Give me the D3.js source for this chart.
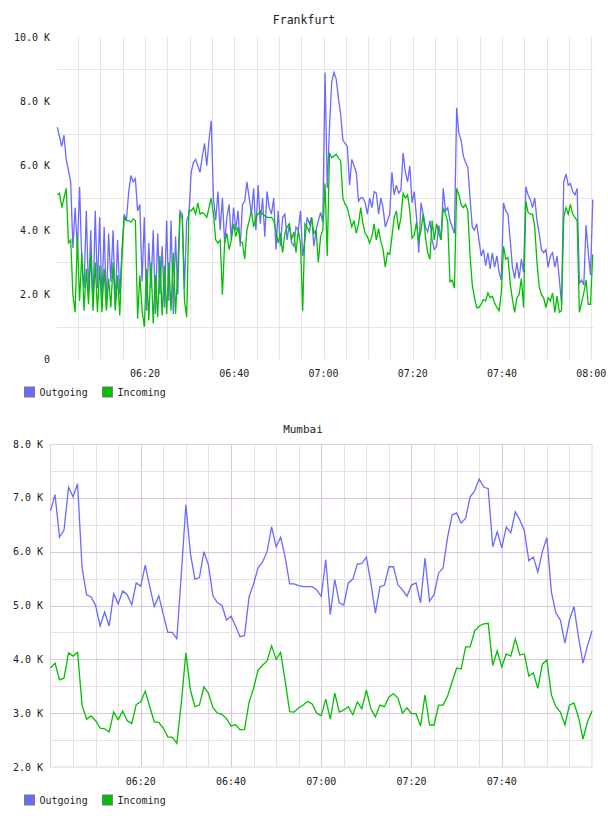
<!DOCTYPE html>
<html>
<head>
<meta charset="utf-8">
<script src="https://cdn.jsdelivr.net/npm/d3@7"></script>
<style>
  body { margin: 0; background: #fff; }
  text { font-family: "DejaVu Sans Mono", monospace; fill: #222; }
</style>
</head>
<body>
<script>
var seriesNames = ['Outgoing', 'Incoming'];
var seriesColors = ['#6a6aff', '#00c000'];

// Frankfurt, one sample every 30 s starting 06:00:20 (values in K)
var frankOut = [
  7.2, 6.9, 6.6, 6.95, 6.2, 5.85, 5.5, 3.45, 4.7, 3.4,
  5.35, 3.0, 2.2, 4.6, 2.0, 4.0, 1.6, 4.6, 2.2, 4.4,
  1.8, 4.1, 1.6, 3.9, 2.4, 4.0, 1.6, 3.7, 2.0, 3.4,
  4.5, 4.3, 5.2, 5.7, 5.5, 5.6, 4.6, 4.8, 2.4, 4.4,
  1.5, 3.6, 2.2, 4.0, 1.4, 3.9, 2.0, 3.5, 1.6, 4.3,
  1.8, 4.3, 1.4, 3.8, 2.0, 4.6, 4.5, 2.2, 4.3, 4.5,
  5.8, 6.1, 6.2, 6.0, 5.8, 6.3, 6.7, 6.0, 6.8, 7.4,
  5.0, 4.3, 5.2, 4.0, 5.0, 3.6, 4.4, 4.8, 3.7, 4.7,
  4.0, 4.6, 3.5, 4.8, 4.9, 5.5, 5.0, 4.5, 5.3, 4.0,
  5.4, 4.2, 5.0, 3.8, 5.2, 4.7, 4.5, 5.0, 3.4, 4.6,
  3.5, 4.4, 4.5, 3.7, 4.2, 3.6, 3.5, 4.1, 4.0, 4.6,
  3.2, 3.7, 4.4, 4.2, 4.4, 3.5, 4.0, 4.3, 4.55, 4.25,
  8.9, 5.3, 7.2, 8.6, 8.9, 8.7, 8.1, 7.6, 6.8, 6.7,
  6.6, 5.4, 6.2, 6.0, 5.8, 4.9, 5.0, 5.0, 4.85, 4.5,
  5.0, 4.7, 5.2, 5.15, 4.5, 5.0, 4.7, 4.1, 4.3, 4.5,
  5.8, 5.1, 5.4, 5.15, 5.25, 6.4, 5.8, 5.5, 6.0, 4.85,
  5.2, 4.4, 3.3, 4.85, 4.5, 4.1, 3.95, 4.3, 3.7, 3.4,
  3.5, 4.15, 3.7, 5.3, 4.6, 4.7, 4.3, 4.1, 3.9, 7.8,
  7.0, 6.8, 6.3, 6.1, 5.95, 5.0, 4.1, 4.0, 4.2, 3.7,
  3.2, 3.4, 2.9, 3.3, 2.8, 3.3, 2.85, 3.2, 2.7, 2.45,
  4.85, 4.6, 4.5, 3.7, 2.85, 2.5, 3.0, 2.5, 3.1, 2.7,
  5.35, 5.1, 4.95, 4.7, 5.0, 4.3, 3.9, 3.4, 3.3, 3.4,
  2.85, 3.2, 3.3, 2.85, 3.2, 2.5, 1.7, 5.5, 5.75, 5.4,
  5.45, 5.2, 5.1, 5.3, 2.35, 2.45, 2.3, 4.15, 3.3, 2.6,
  4.95
];
var frankIn = [
  5.1, 5.15, 4.7, 5.0, 5.3, 3.6, 3.7, 2.0, 1.45, 3.8,
  1.8, 3.3, 1.5, 2.8, 1.7, 3.3, 1.5, 3.0, 1.45, 2.9,
  1.45, 2.8, 1.5, 2.5, 1.6, 3.0, 1.5, 2.6, 1.35, 3.2,
  4.4, 4.3, 4.3, 4.25, 4.35, 4.3, 1.25, 2.6, 1.5, 1.0,
  2.8, 1.2, 3.0, 1.1, 2.6, 1.3, 3.2, 1.35, 2.9, 1.4,
  3.0, 1.5, 3.3, 1.4, 2.8, 4.5, 4.4, 1.8, 1.3, 4.6,
  4.6, 4.7, 4.5, 4.85, 4.5, 4.55, 4.5, 4.4, 4.7, 5.0,
  4.5, 3.7, 3.6, 3.7, 2.0, 3.6, 3.9, 3.4, 3.7, 4.2,
  3.8, 4.1, 3.65, 3.6, 3.1, 4.0, 4.3, 4.6, 4.1, 4.4,
  4.5, 4.6, 4.5, 4.45, 4.4, 4.4, 4.4, 4.3, 4.0, 3.6,
  3.9, 3.3, 3.9, 4.1, 4.2, 3.7, 3.95, 3.3, 4.0, 3.6,
  1.5, 4.2, 4.1, 3.95, 4.4, 3.9, 4.0, 3.0, 3.8, 4.0,
  5.45, 3.2, 6.4, 6.25, 6.3, 6.35, 6.25, 6.15, 5.0, 4.8,
  4.7, 4.4, 4.1, 4.3, 3.9, 4.2, 4.7, 4.2, 3.9, 3.8,
  3.6, 3.8, 4.2, 3.7, 4.05, 3.65, 3.4, 2.85, 3.3, 3.25,
  3.8, 4.4, 4.6, 4.0, 4.4, 5.15, 5.0, 5.1, 4.6, 3.75,
  3.85, 4.25, 3.65, 4.0, 4.5, 3.8, 3.3, 3.1, 4.3, 3.7,
  4.2, 3.9, 3.7, 4.7, 4.5, 4.25, 2.4, 2.45, 2.2, 5.3,
  5.1, 4.8, 4.7, 4.8, 4.6, 3.2, 2.3, 1.9, 1.6, 1.6,
  1.7, 1.85, 1.8, 2.05, 1.9, 1.95, 1.75, 1.6, 1.5, 2.05,
  3.5, 3.1, 3.15, 2.35, 1.85, 1.45, 1.9, 2.0, 2.5, 1.6,
  4.9, 4.55, 4.5, 4.5, 4.1, 3.0, 2.25, 2.0, 1.9, 1.6,
  1.9, 1.8, 2.05, 1.45, 1.95, 1.45, 1.5, 4.4, 4.7, 4.5,
  4.8, 4.5, 4.4, 4.3, 1.45, 1.75, 2.05, 2.45, 1.7, 1.7,
  3.25
];

// Mumbai, one sample per minute starting 06:00 (values in K)
var mumbaiOut = [
  6.76, 7.06, 6.27, 6.40, 7.2, 7.02, 7.26, 5.70, 5.2, 5.16,
  5.0, 4.62, 4.88, 4.62, 5.22, 5.03, 5.27, 5.2, 5.01, 5.42,
  5.36, 5.75, 5.35, 4.98, 5.18, 4.83, 4.5, 4.5, 4.38, 5.6,
  6.87, 5.97, 5.49, 5.52, 6.0, 5.75, 5.18, 5.05, 5.0, 4.73,
  4.8, 4.62, 4.42, 4.44, 5.16, 5.4, 5.7, 5.81, 6.0, 6.46,
  6.09, 6.27, 5.9, 5.4, 5.4, 5.37, 5.35, 5.35, 5.35, 5.29,
  5.17, 5.85, 4.83, 5.48, 5.05, 5.01, 5.42, 5.49, 5.77, 5.78,
  5.9, 5.42, 4.86, 5.35, 5.38, 5.72, 5.72, 5.38, 5.29, 5.17,
  5.38, 5.42, 5.05, 5.88, 5.08, 5.2, 5.6, 5.7, 6.27, 6.68,
  6.72, 6.53, 6.62, 7.02, 7.13, 7.35, 7.2, 7.17, 6.09, 6.37,
  6.07, 6.46, 6.35, 6.74, 6.59, 6.39, 5.83, 5.9, 5.62, 6.0,
  6.26, 5.25, 4.86, 4.73, 4.3, 4.73, 4.98, 4.42, 3.93, 4.25,
  4.53
];
var mumbaiIn = [
  3.84, 3.93, 3.62, 3.65, 4.12, 4.06, 4.13, 3.15, 2.89, 2.95,
  2.86, 2.72, 2.71, 2.65, 3.02, 2.88, 3.04, 2.86, 2.81, 3.16,
  3.21, 3.41, 3.12, 2.84, 2.83, 2.72, 2.56, 2.55, 2.44, 3.2,
  4.12, 3.43, 3.12, 3.15, 3.49, 3.37, 3.1, 3.0, 2.98, 2.9,
  2.76, 2.79, 2.69, 2.7, 3.2, 3.46, 3.8, 3.89, 3.97, 4.25,
  4.0, 4.13, 3.6, 3.03, 3.02, 3.1, 3.15, 3.22, 3.17, 3.0,
  2.95, 3.26, 2.89, 3.37, 3.02, 3.06, 3.12, 2.97, 3.21, 3.08,
  3.43, 3.08, 2.93, 3.15, 3.12, 3.3, 3.36, 3.28, 3.0, 3.1,
  2.99, 2.99, 2.76, 3.34, 2.78, 2.78, 3.15, 3.15, 3.32, 3.58,
  3.84, 3.82, 4.23, 4.23, 4.53, 4.62, 4.66, 4.67, 3.89, 4.16,
  3.86, 4.1, 4.06, 4.38, 4.08, 4.1, 3.69, 3.75, 3.46, 3.91,
  3.99, 3.34, 3.12, 3.02, 2.78, 3.15, 3.19, 2.93, 2.52, 2.84,
  3.04
];

var frankYTicks = [0, 2, 4, 6, 8, 10];
var frankYGrid = [1, 3, 5, 7, 9];
var mumbaiYTicks = [2, 3, 4, 5, 6, 7, 8];
var frankXTicks = ['06:20', '06:40', '07:00', '07:20', '07:40', '08:00'];
var mumbaiXTicks = ['06:20', '06:40', '07:00', '07:20', '07:40'];

var width = 608, height = 816;
var parseHMS = d3.timeParse('%H:%M:%S');
var parseHM = d3.timeParse('%H:%M');

function sampleTimes(start, stepSec, n) {
  var t0 = parseHMS(start);
  return d3.range(n).map(function(i) { return new Date(+t0 + i * stepSec * 1000); });
}

function fmtK(d) { return d === 0 ? '0' : d.toFixed(1) + ' K'; }

var svg = d3.select('body').append('svg')
    .attr('width', width)
    .attr('height', height);

// ---------- Frankfurt ----------
var fx = d3.scaleTime()
    .domain([parseHMS('06:00:16'), parseHMS('08:00:30')])
    .range([57, 593.5]);
var fy = d3.scaleLinear().domain([0, 10]).range([359, 37]);
var fTimes = sampleTimes('06:00:20', 30, frankOut.length);

var g1 = svg.append('g');
g1.append('text').attr('x', 304).attr('y', 24)
    .attr('text-anchor', 'middle').style('font-size', '11.5px').text('Frankfurt');

g1.selectAll('.vgrid')
    .data(d3.timeMinute.every(5).range(parseHM('06:05'), parseHMS('08:00:30')))
    .enter().append('line')
    .attr('x1', function(d) { return Math.round(fx(d)) + 0.5; })
    .attr('x2', function(d) { return Math.round(fx(d)) + 0.5; })
    .attr('y1', fy(10)).attr('y2', fy(0))
    .style('stroke', '#e6e6e6');
g1.selectAll('.hgrid')
    .data(frankYGrid)
    .enter().append('line')
    .attr('x1', fx.range()[0]).attr('x2', fx.range()[1])
    .attr('y1', function(d) { return Math.round(fy(d)) + 0.5; })
    .attr('y2', function(d) { return Math.round(fy(d)) + 0.5; })
    .style('stroke', '#e6e6e6');

g1.selectAll('.ylab')
    .data(frankYTicks)
    .enter().append('text')
    .attr('x', 50).attr('y', function(d) { return fy(d); })
    .attr('dy', '0.35em').attr('text-anchor', 'end')
    .style('font-size', '10px').text(fmtK);
g1.selectAll('.xlab')
    .data(frankXTicks)
    .enter().append('text')
    .attr('x', function(d) { return fx(parseHM(d)); })
    .attr('y', 377).attr('text-anchor', 'middle')
    .style('font-size', '10px').text(function(d) { return d; });

[frankOut, frankIn].forEach(function(vals, k) {
  var line = d3.line()
      .x(function(d, i) { return fx(fTimes[i]); })
      .y(function(d) { return fy(d); });
  g1.append('path').datum(vals)
      .attr('d', line)
      .style('fill', 'none')
      .style('stroke', seriesColors[k])
      .style('stroke-width', 1.3);
});

// ---------- Mumbai ----------
var mx = d3.scaleTime()
    .domain([parseHM('06:00'), parseHM('08:00')])
    .range([50.5, 592]);
var my = d3.scaleLinear().domain([2, 8]).range([767, 444]);
var mTimes = sampleTimes('06:00:00', 60, mumbaiOut.length);

var g2 = svg.append('g');
g2.append('text').attr('x', 303).attr('y', 433)
    .attr('text-anchor', 'middle').style('font-size', '11px').text('Mumbai');

var mMinutes = d3.timeMinute.every(5).range(parseHM('06:05'), parseHM('08:00'));
g2.selectAll('.vgrid')
    .data(mMinutes)
    .enter().append('line')
    .attr('x1', function(d) { return Math.round(mx(d)) + 0.5; })
    .attr('x2', function(d) { return Math.round(mx(d)) + 0.5; })
    .attr('y1', my(8)).attr('y2', my(2))
    .style('stroke', function(d) { return d.getMinutes() % 20 === 0 ? '#dcc4e0' : '#e2e2e2'; });
g2.selectAll('.hgrid')
    .data(d3.range(2.5, 8, 0.5))
    .enter().append('line')
    .attr('x1', mx.range()[0]).attr('x2', mx.range()[1])
    .attr('y1', function(d) { return Math.round(my(d)) + 0.5; })
    .attr('y2', function(d) { return Math.round(my(d)) + 0.5; })
    .style('stroke', function(d) { return d % 1 === 0 ? '#dcc4e0' : '#e2e2e2'; });
g2.append('rect')
    .attr('x', 50.5).attr('y', 444.5)
    .attr('width', 592 - 50.5).attr('height', 767 - 444.5)
    .style('fill', 'none').style('stroke', '#e4d0e8');

g2.selectAll('.ylab')
    .data(mumbaiYTicks)
    .enter().append('text')
    .attr('x', 43).attr('y', function(d) { return my(d); })
    .attr('dy', '0.35em').attr('text-anchor', 'end')
    .style('font-size', '10px').text(fmtK);
g2.selectAll('.xlab')
    .data(mumbaiXTicks)
    .enter().append('text')
    .attr('x', function(d) { return mx(parseHM(d)); })
    .attr('y', 785).attr('text-anchor', 'middle')
    .style('font-size', '10px').text(function(d) { return d; });

[mumbaiOut, mumbaiIn].forEach(function(vals, k) {
  var line = d3.line()
      .x(function(d, i) { return mx(mTimes[i]); })
      .y(function(d) { return my(d); });
  g2.append('path').datum(vals)
      .attr('d', line)
      .style('fill', 'none')
      .style('stroke', seriesColors[k])
      .style('stroke-width', 1.3);
});

// ---------- legends ----------
function legend(y) {
  var lg = svg.append('g').attr('transform', 'translate(0,' + y + ')');
  var items = lg.selectAll('g').data(seriesNames).enter().append('g')
      .attr('transform', function(d, i) { return 'translate(' + [24.5, 102.5][i] + ',0)'; });
  items.append('rect')
      .attr('width', 10).attr('height', 10)
      .style('fill', function(d, i) { return seriesColors[i]; })
      .style('stroke', '#777');
  items.append('text')
      .attr('x', 15).attr('y', 9)
      .style('font-size', '10px').text(function(d) { return d; });
}
legend(387);
legend(795);
</script>
</body>
</html>
